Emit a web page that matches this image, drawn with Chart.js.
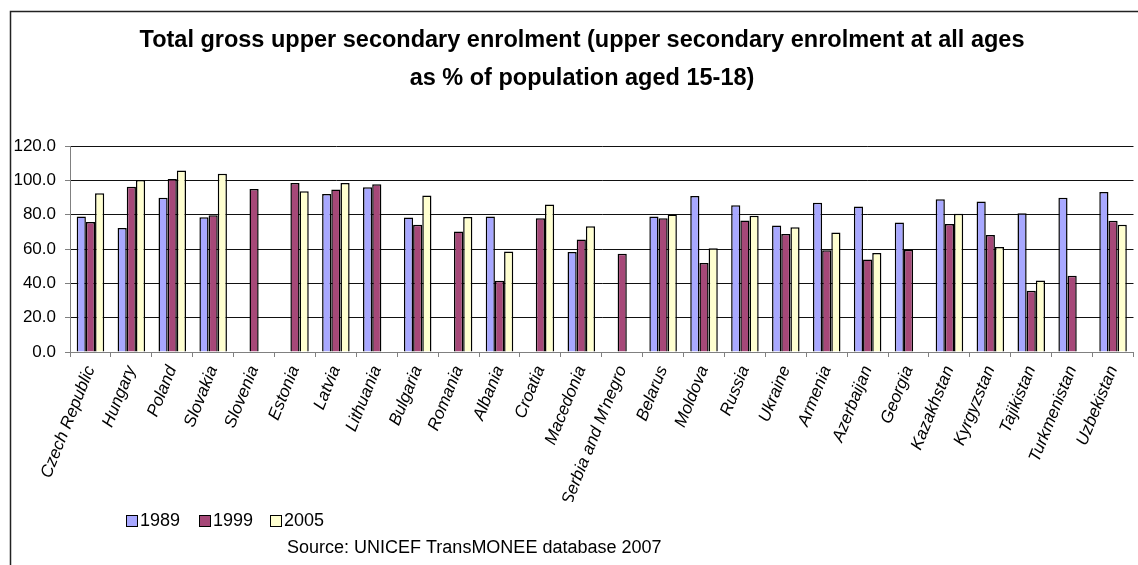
<!DOCTYPE html>
<html><head><meta charset="utf-8">
<script src="https://cdn.jsdelivr.net/npm/chart.js@4.4.1/dist/chart.umd.min.js"></script>
<style>html,body{margin:0;padding:0;background:#fff;}canvas{display:block;}</style>
</head><body>
<canvas id="c" width="1138" height="565"></canvas>
<script>
const titleLines = ['Total gross upper secondary enrolment (upper secondary enrolment at all ages', 'as % of population aged 15-18)'];
const sourceText = 'Source: UNICEF TransMONEE database 2007';
const countries = ['Czech Republic','Hungary','Poland','Slovakia','Slovenia','Estonia','Latvia','Lithuania','Bulgaria','Romania','Albania','Croatia','Macedonia',"Serbia and M'negro",'Belarus','Moldova','Russia','Ukraine','Armenia','Azerbaijan','Georgia','Kazakhstan','Kyrgyzstan','Tajikistan','Turkmenistan','Uzbekistan'];
const seriesLabels = ['1989','1999','2005'];
const values1989 = [79.0,72.3,89.8,78.5,null,null,92.1,96.0,78.3,null,78.9,null,58.2,null,78.9,90.9,85.5,73.7,87.0,84.7,75.4,89.0,87.6,80.8,89.8,93.2];
const values1999 = [75.8,96.2,100.8,79.7,95.0,98.5,94.6,97.7,74.1,70.2,41.5,77.9,65.5,57.2,77.9,51.8,76.6,68.8,59.3,53.9,59.5,74.6,68.2,35.7,44.4,76.4];
const values2005 = [92.5,100.2,105.7,103.9,null,93.6,98.5,null,91.1,78.7,58.5,85.9,73.3,null,80.1,60.5,79.3,72.7,69.6,57.6,null,80.5,61.1,41.7,null,74.1];
const yMin = 0, yMax = 120, yStep = 20;
const colors = ['#A8A8FF','#A64878','#FFFFD0'];

const FONT = "'Liberation Sans', Arial, sans-serif";
const X_AXIS_HEIGHT = 150;

const decor = {
  id: 'decor',
  beforeDraw(chart) {
    const ctx = chart.ctx;
    ctx.save();
    ctx.fillStyle = '#fff';
    ctx.fillRect(0, 0, chart.width, chart.height);
    ctx.restore();
  },
  afterDraw(chart) {
    const ctx = chart.ctx;
    ctx.save();
    ctx.strokeStyle = '#222';
    ctx.lineWidth = 1.5;
    ctx.beginPath();
    ctx.moveTo(10.5, chart.height);
    ctx.lineTo(10.5, 11.5);
    ctx.lineTo(chart.width, 11.5);
    ctx.stroke();
    ctx.fillStyle = '#000';
    ctx.textAlign = 'center';
    ctx.textBaseline = 'alphabetic';
    ctx.font = "bold 23.5px " + FONT;
    ctx.fillText(titleLines[0], 582, 47);
    ctx.fillText(titleLines[1], 582, 85);
    ctx.font = "18px " + FONT;
    ctx.textAlign = 'left';
    ctx.textBaseline = 'middle';
    const xs = [126, 199, 270];
    chart.data.datasets.forEach((ds, i) => {
      ctx.fillStyle = ds.backgroundColor;
      ctx.fillRect(xs[i], 515, 12, 12);
      ctx.strokeStyle = '#000';
      ctx.lineWidth = 1;
      ctx.strokeRect(xs[i] + 0.5, 515.5, 11, 11);
      ctx.fillStyle = '#000';
      ctx.fillText(ds.label, xs[i] + 14, 521);
    });
    ctx.fillText(sourceText, 287, 548);
    ctx.restore();
  }
};

new Chart(document.getElementById('c'), {
  type: 'bar',
  data: {
    labels: countries,
    datasets: [
      {label: seriesLabels[0], data: values1989, backgroundColor: colors[0]},
      {label: seriesLabels[1], data: values1999, backgroundColor: colors[1]},
      {label: seriesLabels[2], data: values2005, backgroundColor: colors[2]}
    ].map(d => Object.assign(d, {borderColor: '#000', borderWidth: 1.5, categoryPercentage: 0.673, barPercentage: 1.0}))
  },
  options: {
    responsive: false,
    animation: false,
    devicePixelRatio: 1,
    layout: {padding: {top: 146, left: 10, right: 2, bottom: 565 - 352 - X_AXIS_HEIGHT}},
    plugins: {legend: {display: false}, title: {display: false}, tooltip: {enabled: false}},
    scales: {
      x: {
        offset: true,
        afterFit(s) { s.height = X_AXIS_HEIGHT; },
        grid: {display: true, drawOnChartArea: false, drawTicks: true, tickLength: 5, tickColor: '#808080', offset: true},
        border: {display: true, color: '#808080', width: 1},
        ticks: {autoSkip: false, minRotation: 68, maxRotation: 68, padding: 6, color: '#000', font: {family: FONT, size: 17, style: 'italic'}}
      },
      y: {
        min: yMin, max: yMax,
        afterFit(s) { s.width = 60; },
        grid: {color: c => (c.tick && c.tick.value === 0) ? 'rgba(0,0,0,0)' : '#111', lineWidth: 1, tickLength: 5, tickColor: '#808080'},
        border: {display: true, color: '#808080', width: 1},
        ticks: {stepSize: yStep, padding: 9, color: '#000', font: {family: FONT, size: 17}, callback: v => Number(v).toFixed(1)}
      }
    }
  },
  plugins: [decor]
});
</script>
</body></html>
